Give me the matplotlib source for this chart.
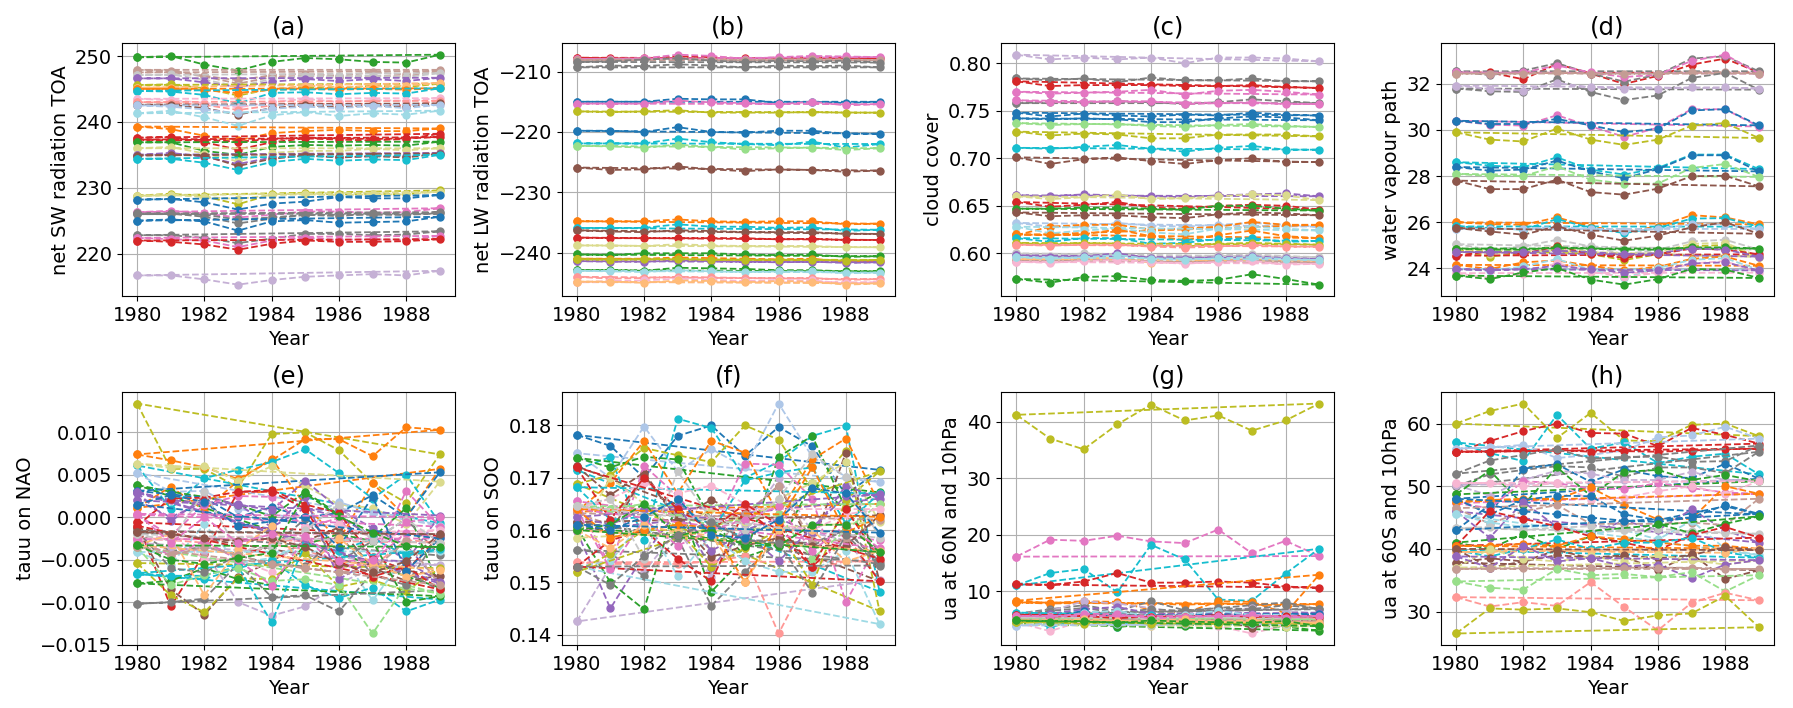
import matplotlib
matplotlib.use('Agg')
import matplotlib.pyplot as plt

years = list(range(1980, 1990))
panel_titles = ['(a)', '(b)', '(c)', '(d)', '(e)', '(f)', '(g)', '(h)']
panel_ylabels = ['net SW radiation TOA', 'net LW radiation TOA', 'cloud cover',
                 'water vapour path', 'tauu on NAO', 'tauu on SOO',
                 'ua at 60N and 10hPa', 'ua at 60S and 10hPa']

# colour of each member, as an index into tab20
sw_colors = [4, 11, 11, 15, 8, 16, 3, 2, 18, 13, 7, 10, 1, 19, 2, 6, 6, 4, 17, 8, 10, 18,
             16, 17, 0, 12, 14, 14, 0, 14, 12, 6, 9]
sw_values = [
    [249.8, 250.0, 248.7, 247.8, 249.1, 249.7, 249.5, 249.1, 249.0, 250.2],
    [247.9, 247.8, 247.0, 246.3, 247.1, 247.3, 247.0, 247.5, 247.2, 247.9],
    [247.5, 247.6, 246.9, 245.8, 246.8, 247.0, 246.8, 247.0, 246.9, 247.7],
    [247.1, 247.2, 246.4, 245.4, 246.5, 247.0, 246.9, 247.0, 246.8, 247.4],
    [246.6, 246.6, 246.0, 245.3, 246.1, 246.5, 246.2, 246.5, 246.2, 246.7],
    [245.6, 245.7, 245.1, 244.0, 245.0, 245.3, 245.1, 245.5, 245.3, 245.8],
    [245.2, 245.2, 244.9, 244.3, 244.9, 245.5, 245.3, 245.4, 245.5, 245.9],
    [245.0, 245.0, 244.8, 244.4, 244.9, 245.0, 244.9, 245.0, 244.9, 245.1],
    [244.7, 244.6, 244.1, 242.8, 244.4, 244.5, 244.2, 244.4, 244.3, 245.1],
    [243.5, 243.3, 242.9, 242.2, 243.0, 243.5, 243.0, 243.3, 243.2, 243.6],
    [243.0, 242.9, 242.6, 241.8, 242.5, 242.9, 242.6, 242.8, 242.5, 243.2],
    [242.6, 242.6, 242.1, 241.1, 242.1, 242.5, 242.3, 242.5, 242.3, 242.8],
    [242.5, 242.3, 241.9, 241.3, 242.0, 242.3, 242.1, 242.4, 242.1, 242.6],
    [241.3, 241.7, 240.7, 239.4, 241.0, 241.5, 240.9, 241.3, 241.1, 241.7],
    [239.3, 238.9, 237.9, 237.2, 238.3, 238.6, 238.8, 238.6, 238.6, 239.0],
    [237.6, 237.7, 236.9, 235.8, 236.9, 237.5, 237.3, 237.2, 237.4, 238.2],
    [237.3, 237.2, 237.3, 237.0, 237.4, 237.6, 237.5, 237.4, 237.5, 237.7],
    [236.9, 236.9, 235.6, 235.0, 236.2, 236.5, 236.4, 236.5, 236.4, 237.0],
    [236.0, 236.2, 235.2, 234.0, 235.3, 235.6, 235.6, 235.9, 235.7, 236.0],
    [235.0, 235.3, 234.7, 233.6, 234.6, 235.0, 234.6, 234.8, 234.8, 235.3],
    [234.9, 235.0, 234.9, 233.3, 234.4, 234.9, 234.6, 234.8, 234.6, 235.2],
    [234.4, 234.4, 233.8, 232.7, 233.9, 234.4, 234.1, 234.3, 234.2, 235.0],
    [228.8, 229.1, 228.7, 227.5, 229.0, 229.2, 229.0, 229.1, 229.0, 229.6],
    [228.8, 228.9, 228.6, 228.3, 228.9, 229.0, 228.9, 229.0, 229.0, 229.4],
    [228.2, 228.3, 227.8, 226.7, 227.6, 227.9, 228.6, 228.4, 228.4, 228.9],
    [226.3, 226.5, 226.1, 225.5, 225.9, 226.4, 226.4, 226.2, 226.3, 226.9],
    [226.1, 226.1, 225.6, 224.6, 225.3, 225.9, 225.7, 226.1, 225.9, 226.3],
    [226.0, 226.0, 225.9, 225.2, 225.5, 225.9, 225.9, 225.9, 225.9, 226.1],
    [225.0, 225.2, 224.9, 223.5, 224.9, 225.1, 224.7, 224.8, 224.9, 225.6],
    [222.8, 222.8, 222.4, 221.6, 222.3, 223.0, 223.0, 222.8, 222.9, 223.4],
    [222.4, 222.2, 222.0, 221.0, 222.0, 222.4, 222.1, 222.2, 222.1, 222.7],
    [222.0, 221.8, 221.4, 220.6, 221.5, 222.0, 221.8, 221.8, 221.9, 222.2],
    [216.7, 216.7, 216.1, 215.3, 216.0, 216.5, 216.7, 216.9, 216.7, 217.4],
]

lw_colors = [6, 12, 11, 14, 14, 0, 12, 16, 0, 18, 5, 10, 2, 18, 10, 6, 17, 4, 2, 8, 16,
             4, 19, 7, 13, 3]
lw_values = [
    [-207.7, -207.8, -207.8, -207.5, -207.6, -207.8, -207.7, -207.8, -207.7, -207.8],
    [-207.9, -207.9, -207.8, -207.2, -207.4, -207.9, -207.6, -207.4, -207.5, -207.6],
    [-208.1, -208.0, -208.0, -207.8, -208.0, -208.1, -208.0, -207.9, -208.0, -208.1],
    [-208.4, -208.3, -208.0, -207.8, -208.2, -208.4, -208.2, -208.3, -208.2, -208.5],
    [-209.3, -209.0, -209.1, -208.8, -209.0, -209.3, -209.0, -209.1, -209.0, -209.3],
    [-215.0, -215.0, -215.0, -214.5, -214.6, -214.6, -215.2, -215.0, -215.2, -215.0],
    [-215.3, -215.3, -215.3, -214.8, -215.1, -215.2, -215.4, -215.0, -215.6, -215.4],
    [-216.6, -216.7, -216.6, -216.4, -216.8, -216.8, -216.8, -216.7, -216.8, -216.8],
    [-219.8, -219.8, -220.0, -219.2, -220.0, -220.1, -219.8, -219.8, -220.3, -220.3],
    [-221.9, -221.9, -221.9, -221.1, -221.7, -222.0, -222.2, -221.6, -222.6, -222.0],
    [-222.3, -222.4, -222.6, -222.1, -222.5, -222.9, -222.7, -222.6, -223.0, -222.7],
    [-225.9, -226.3, -226.2, -225.7, -226.2, -226.5, -226.2, -226.3, -226.6, -226.4],
    [-234.8, -234.8, -234.8, -234.5, -234.8, -234.9, -234.8, -234.8, -235.3, -235.2],
    [-235.9, -235.9, -235.9, -235.3, -235.7, -235.7, -235.9, -235.8, -236.4, -236.2],
    [-236.3, -236.5, -236.6, -236.3, -236.4, -236.6, -236.6, -236.6, -236.9, -236.9],
    [-237.5, -237.6, -237.6, -237.6, -237.6, -237.6, -237.8, -237.7, -237.9, -237.9],
    [-238.8, -238.8, -238.9, -238.6, -238.8, -238.9, -238.9, -238.9, -239.1, -239.1],
    [-240.3, -240.4, -240.1, -240.1, -240.1, -240.3, -240.4, -240.3, -240.7, -240.6],
    [-241.0, -241.0, -241.0, -240.8, -240.9, -241.0, -241.1, -241.0, -241.5, -241.4],
    [-241.4, -241.5, -241.5, -241.3, -241.4, -241.5, -241.6, -241.5, -241.7, -241.6],
    [-241.1, -241.2, -241.1, -241.0, -241.2, -241.2, -241.2, -241.2, -241.3, -241.2],
    [-242.9, -242.9, -243.0, -242.5, -242.6, -242.7, -242.9, -242.9, -243.1, -243.1],
    [-243.0, -243.1, -243.2, -242.9, -243.1, -243.2, -243.1, -243.1, -243.4, -243.3],
    [-244.0, -244.3, -244.2, -244.0, -244.1, -244.2, -244.2, -244.2, -244.5, -244.4],
    [-244.9, -244.7, -244.6, -244.3, -244.5, -244.7, -244.5, -244.6, -245.1, -244.9],
    [-244.8, -244.8, -245.0, -244.6, -244.7, -244.9, -244.7, -244.8, -245.3, -245.1],
]

cloud_colors = [9, 14, 6, 12, 14, 12, 0, 0, 5, 16, 18, 10, 8, 17, 6, 4, 10, 1, 2, 19, 2,
                18, 16, 7, 15, 8, 3, 11, 4, 13, 19]
cloud_values = [
    [0.809, 0.804, 0.806, 0.804, 0.806, 0.800, 0.806, 0.806, 0.805, 0.802],
    [0.784, 0.782, 0.784, 0.780, 0.785, 0.782, 0.782, 0.784, 0.781, 0.781],
    [0.781, 0.776, 0.777, 0.777, 0.777, 0.776, 0.776, 0.777, 0.775, 0.774],
    [0.770, 0.768, 0.769, 0.770, 0.772, 0.767, 0.771, 0.772, 0.770, 0.767],
    [0.758, 0.759, 0.759, 0.760, 0.759, 0.757, 0.759, 0.762, 0.760, 0.758],
    [0.761, 0.759, 0.759, 0.760, 0.760, 0.757, 0.758, 0.759, 0.757, 0.757],
    [0.748, 0.744, 0.747, 0.745, 0.744, 0.746, 0.745, 0.748, 0.746, 0.745],
    [0.742, 0.741, 0.742, 0.741, 0.738, 0.738, 0.742, 0.744, 0.743, 0.740],
    [0.737, 0.735, 0.736, 0.736, 0.734, 0.733, 0.735, 0.736, 0.734, 0.733],
    [0.728, 0.724, 0.726, 0.725, 0.721, 0.721, 0.725, 0.725, 0.725, 0.723],
    [0.711, 0.710, 0.712, 0.714, 0.710, 0.707, 0.711, 0.713, 0.709, 0.709],
    [0.701, 0.694, 0.699, 0.701, 0.697, 0.694, 0.698, 0.700, 0.696, 0.696],
    [0.661, 0.660, 0.662, 0.661, 0.660, 0.659, 0.661, 0.662, 0.663, 0.660],
    [0.660, 0.657, 0.659, 0.662, 0.657, 0.658, 0.660, 0.662, 0.661, 0.656],
    [0.654, 0.649, 0.651, 0.654, 0.648, 0.647, 0.650, 0.651, 0.650, 0.646],
    [0.647, 0.647, 0.648, 0.648, 0.647, 0.646, 0.650, 0.650, 0.647, 0.645],
    [0.643, 0.639, 0.640, 0.640, 0.638, 0.637, 0.641, 0.643, 0.642, 0.640],
    [0.632, 0.628, 0.628, 0.632, 0.629, 0.628, 0.630, 0.632, 0.630, 0.628],
    [0.619, 0.628, 0.630, 0.630, 0.625, 0.626, 0.628, 0.633, 0.630, 0.630],
    [0.628, 0.621, 0.624, 0.626, 0.622, 0.620, 0.626, 0.628, 0.626, 0.624],
    [0.620, 0.619, 0.620, 0.625, 0.618, 0.614, 0.619, 0.624, 0.618, 0.616],
    [0.616, 0.612, 0.616, 0.616, 0.610, 0.611, 0.615, 0.616, 0.612, 0.613],
    [0.611, 0.609, 0.611, 0.610, 0.608, 0.607, 0.610, 0.611, 0.610, 0.609],
    [0.609, 0.608, 0.609, 0.609, 0.607, 0.606, 0.607, 0.609, 0.607, 0.607],
    [0.600, 0.597, 0.600, 0.599, 0.596, 0.595, 0.598, 0.599, 0.597, 0.596],
    [0.598, 0.596, 0.597, 0.600, 0.595, 0.594, 0.596, 0.597, 0.595, 0.594],
    [0.594, 0.593, 0.595, 0.595, 0.590, 0.591, 0.593, 0.594, 0.592, 0.592],
    [0.592, 0.591, 0.593, 0.593, 0.592, 0.590, 0.592, 0.593, 0.591, 0.590],
    [0.573, 0.569, 0.575, 0.576, 0.572, 0.571, 0.572, 0.578, 0.573, 0.567],
    [0.591, 0.590, 0.592, 0.593, 0.591, 0.589, 0.591, 0.592, 0.588, 0.589],
    [0.596, 0.594, 0.596, 0.598, 0.594, 0.593, 0.595, 0.596, 0.594, 0.593],
]

wvp_colors = [6, 14, 12, 11, 14, 9, 12, 0, 16, 18, 0, 5, 10, 2, 18, 1, 10, 15, 16, 17, 6,
              4, 8, 2, 19, 13, 8, 4]
wvp_values = [
    [32.48, 32.50, 32.20, 32.87, 32.45, 32.00, 32.35, 32.84, 33.10, 32.50],
    [32.55, 32.38, 32.58, 32.90, 32.45, 32.10, 32.40, 33.10, 33.20, 32.55],
    [32.50, 32.45, 32.50, 32.80, 32.50, 32.30, 32.40, 33.00, 33.27, 32.45],
    [32.45, 32.45, 32.45, 32.50, 32.45, 32.45, 32.45, 32.50, 32.50, 32.45],
    [31.80, 31.68, 31.65, 32.20, 31.65, 31.30, 31.50, 32.26, 32.48, 31.75],
    [31.93, 31.78, 31.70, 32.04, 31.85, 31.80, 31.80, 31.85, 31.85, 31.80],
    [30.40, 30.23, 30.19, 30.64, 30.16, 29.70, 30.10, 30.90, 30.90, 30.15],
    [30.40, 30.26, 30.26, 30.48, 30.20, 29.90, 30.05, 30.85, 30.90, 30.20],
    [29.90, 29.58, 29.50, 30.06, 29.58, 29.35, 29.58, 30.19, 30.30, 29.65],
    [28.60, 28.45, 28.38, 28.81, 28.28, 28.06, 28.35, 28.93, 28.93, 28.30],
    [28.39, 28.23, 28.28, 28.67, 28.20, 27.90, 28.30, 28.90, 28.90, 28.20],
    [28.09, 28.00, 28.00, 28.42, 27.84, 27.67, 27.67, 28.35, 28.52, 27.96],
    [27.80, 27.43, 27.43, 27.84, 27.30, 27.19, 27.45, 27.99, 28.01, 27.55],
    [25.99, 25.91, 25.88, 26.20, 25.80, 25.60, 25.80, 26.30, 26.20, 25.90],
    [25.81, 25.74, 25.67, 26.13, 25.74, 25.52, 25.74, 26.15, 26.17, 25.80],
    [25.70, 25.70, 25.70, 25.80, 25.70, 25.60, 25.70, 25.90, 25.90, 25.70],
    [25.74, 25.59, 25.45, 25.81, 25.45, 25.19, 25.41, 25.77, 25.99, 25.49],
    [25.04, 24.80, 24.94, 25.23, 24.94, 24.60, 24.80, 25.16, 25.23, 24.80],
    [24.75, 24.50, 24.65, 24.80, 24.60, 24.35, 24.60, 24.95, 25.00, 24.50],
    [24.85, 24.60, 24.75, 24.95, 24.70, 24.50, 24.70, 25.05, 25.10, 24.50],
    [24.54, 24.72, 24.62, 24.94, 24.60, 24.45, 24.60, 24.85, 24.80, 24.60],
    [24.85, 24.80, 24.80, 24.90, 24.85, 24.80, 24.80, 24.90, 24.90, 24.85],
    [24.70, 24.70, 24.70, 24.75, 24.70, 24.60, 24.65, 24.85, 24.80, 24.50],
    [24.14, 23.96, 24.25, 24.33, 24.10, 23.90, 24.05, 24.40, 24.50, 24.10],
    [23.96, 23.88, 24.07, 24.39, 23.93, 23.57, 24.00, 24.36, 24.43, 23.93],
    [23.78, 23.57, 23.75, 24.22, 23.85, 23.60, 23.80, 24.20, 24.30, 23.80],
    [23.95, 23.90, 23.95, 24.10, 23.95, 23.80, 23.90, 24.20, 24.25, 23.90],
    [23.67, 23.52, 23.81, 24.00, 23.50, 23.28, 23.52, 23.96, 23.93, 23.57],
]

nao_colors = [16, 2, 2, 18, 17, 1, 4, 0, 8, 8, 12, 6, 10, 14, 7, 13, 9, 19, 16, 18, 4, 14,
              18, 5, 12, 8, 14, 6, 0, 15, 3, 11, 10, 4, 12]
nao_values = [
    [0.0134, 0.0057, 0.0057, 0.0035, 0.0098, 0.0100, 0.0079, 0.0040, 0.0017, 0.0074],
    [0.0074, 0.0067, 0.0059, 0.0045, 0.0067, 0.0092, 0.0092, 0.0072, 0.0106, 0.0103],
    [0.0011, 0.0036, 0.0008, 0.0043, 0.0069, 0.0014, -0.0027, 0.0040, 0.0000, 0.0057],
    [0.0061, 0.0010, 0.0046, 0.0056, 0.0065, 0.0080, 0.0052, 0.0022, 0.0050, -0.0007],
    [0.0063, 0.0058, 0.0060, 0.0043, 0.0060, 0.0037, 0.0015, 0.0011, -0.0008, 0.0042],
    [0.0052, 0.0030, 0.0031, 0.0010, 0.0003, -0.0001, 0.0018, 0.0005, 0.0001, -0.0010],
    [0.0038, 0.0030, 0.0024, 0.0015, 0.0001, 0.0030, 0.0003, -0.0024, 0.0011, -0.0083],
    [0.0031, 0.0027, 0.0023, 0.0000, 0.0012, 0.0000, 0.0005, 0.0026, 0.0000, 0.0053],
    [0.0029, -0.0005, 0.0024, 0.0015, 0.0008, 0.0043, 0.0010, -0.0013, -0.0033, -0.0078],
    [0.0020, 0.0000, 0.0018, 0.0016, -0.0012, 0.0011, 0.0000, -0.0022, -0.0052, 0.0002],
    [0.0003, -0.0022, 0.0015, 0.0025, 0.0024, -0.0012, -0.0001, -0.0050, 0.0031, -0.0011],
    [-0.0006, -0.0105, -0.0043, 0.0030, 0.0032, 0.0015, 0.0005, -0.0047, -0.0063, -0.0022],
    [-0.0013, -0.0085, -0.0115, -0.0070, -0.0052, -0.0028, -0.0012, -0.0060, -0.0075, -0.0069],
    [-0.0018, -0.0040, -0.0035, -0.0043, -0.0035, -0.0002, -0.0052, -0.0028, -0.0002, -0.0045],
    [-0.0025, -0.0027, -0.0030, -0.0048, -0.0032, -0.0038, -0.0055, -0.0058, -0.0027, -0.0030],
    [-0.0027, -0.0021, -0.0049, -0.0050, -0.0065, -0.0012, -0.0008, -0.0024, -0.0020, -0.0015],
    [-0.0030, -0.0035, -0.0040, -0.0100, -0.0116, -0.0105, -0.0078, -0.0060, -0.0057, -0.0056],
    [-0.0041, -0.0056, -0.0008, -0.0054, -0.0048, -0.0032, -0.0040, -0.0098, -0.0045, -0.0040],
    [-0.0054, -0.0092, -0.0112, -0.0072, -0.0073, -0.0042, -0.0082, -0.0074, -0.0087, -0.0060],
    [-0.0067, -0.0070, -0.0073, -0.0060, -0.0050, -0.0080, -0.0095, -0.0083, -0.0111, -0.0097],
    [-0.0078, -0.0075, -0.0060, -0.0073, -0.0080, -0.0032, -0.0020, -0.0028, -0.0100, -0.0093],
    [-0.0102, -0.0100, -0.0096, -0.0055, -0.0094, -0.0092, -0.0111, -0.0065, -0.0065, -0.0086],
    [-0.0066, -0.0069, -0.0069, -0.0058, -0.0124, -0.0031, -0.0040, -0.0025, -0.0045, -0.0038],
    [-0.0035, -0.0080, -0.0068, -0.0060, -0.0075, -0.0073, -0.0080, -0.0137, -0.0080, -0.0090],
    [-0.0026, -0.0045, -0.0028, -0.0050, -0.0081, -0.0024, -0.0060, -0.0052, -0.0018, -0.0025],
    [0.0030, 0.0020, 0.0017, -0.0010, -0.0013, 0.0024, -0.0073, -0.0050, -0.0052, -0.0076],
    [-0.0016, -0.0060, -0.0065, -0.0045, -0.0055, -0.0058, -0.0020, -0.0068, -0.0080, -0.0020],
    [-0.0010, 0.0022, 0.0023, 0.0030, 0.0030, 0.0010, -0.0052, -0.0070, -0.0058, -0.0085],
    [0.0015, 0.0026, 0.0018, -0.0010, -0.0005, 0.0000, -0.0035, 0.0024, -0.0063, -0.0025],
    [-0.0020, -0.0028, 0.0030, -0.0040, -0.0035, -0.0015, 0.0015, -0.0028, -0.0002, -0.0030],
    [-0.0033, -0.0020, -0.0092, -0.0038, -0.0010, -0.0060, -0.0025, -0.0055, -0.0070, -0.0062],
    [-0.0035, -0.0045, -0.0035, -0.0045, -0.0055, -0.0060, -0.0065, -0.0062, -0.0028, -0.0080],
    [-0.0017, -0.0020, -0.0025, -0.0028, -0.0025, -0.0035, -0.0055, -0.0065, -0.0052, -0.0020],
    [-0.0033, -0.0050, -0.0055, -0.0048, -0.0042, 0.0028, 0.0001, -0.0018, -0.0034, -0.0035],
    [0.0004, -0.0030, 0.0000, -0.0030, -0.0020, -0.0022, -0.0052, -0.0050, -0.0006, 0.0000],
]

soo_colors = [0, 1, 18, 16, 4, 2, 10, 12, 9, 8, 4, 14, 7, 19, 16, 6, 17, 11, 14, 18, 5,
              10, 13, 8, 6, 12, 2, 3, 15, 4, 14, 0]
soo_values = [
    [0.1782, 0.1761, 0.1700, 0.1780, 0.1800, 0.1742, 0.1797, 0.1760, 0.1668, 0.1715],
    [0.1747, 0.1700, 0.1798, 0.1712, 0.1755, 0.1720, 0.1842, 0.1740, 0.1702, 0.1692],
    [0.1715, 0.1740, 0.1580, 0.1813, 0.1795, 0.1700, 0.1730, 0.1780, 0.1799, 0.1482],
    [0.1688, 0.1705, 0.1757, 0.1743, 0.1730, 0.1800, 0.1773, 0.1677, 0.1752, 0.1445],
    [0.1738, 0.1720, 0.1740, 0.1735, 0.1620, 0.1550, 0.1740, 0.1780, 0.1640, 0.1672],
    [0.1635, 0.1690, 0.1770, 0.1670, 0.1771, 0.1748, 0.1630, 0.1735, 0.1775, 0.1650],
    [0.1722, 0.1667, 0.1710, 0.1620, 0.1658, 0.1625, 0.1685, 0.1570, 0.1748, 0.1502],
    [0.1655, 0.1530, 0.1723, 0.1665, 0.1590, 0.1727, 0.1725, 0.1660, 0.1462, 0.1580],
    [0.1425, 0.1530, 0.1520, 0.1600, 0.1510, 0.1610, 0.1700, 0.1595, 0.1580, 0.1505],
    [0.1598, 0.1450, 0.1552, 0.1637, 0.1528, 0.1600, 0.1622, 0.1595, 0.1685, 0.1660],
    [0.1605, 0.1500, 0.1448, 0.1660, 0.1482, 0.1548, 0.1570, 0.1690, 0.1640, 0.1558],
    [0.1562, 0.1555, 0.1512, 0.1585, 0.1455, 0.1520, 0.1578, 0.1575, 0.1600, 0.1540],
    [0.1538, 0.1535, 0.1535, 0.1535, 0.1540, 0.1550, 0.1402, 0.1525, 0.1540, 0.1540],
    [0.1530, 0.1540, 0.1620, 0.1512, 0.1590, 0.1540, 0.1520, 0.1520, 0.1560, 0.1420],
    [0.1520, 0.1555, 0.1600, 0.1600, 0.1530, 0.1565, 0.1600, 0.1495, 0.1658, 0.1712],
    [0.1530, 0.1580, 0.1600, 0.1545, 0.1502, 0.1640, 0.1590, 0.1530, 0.1590, 0.1502],
    [0.1585, 0.1700, 0.1650, 0.1600, 0.1640, 0.1615, 0.1660, 0.1690, 0.1730, 0.1615],
    [0.1632, 0.1610, 0.1700, 0.1625, 0.1560, 0.1630, 0.1685, 0.1580, 0.1580, 0.1620],
    [0.1615, 0.1605, 0.1598, 0.1585, 0.1620, 0.1580, 0.1580, 0.1570, 0.1600, 0.1535],
    [0.1682, 0.1620, 0.1625, 0.1658, 0.1595, 0.1695, 0.1710, 0.1720, 0.1612, 0.1670],
    [0.1645, 0.1640, 0.1650, 0.1625, 0.1610, 0.1620, 0.1630, 0.1545, 0.1600, 0.1650],
    [0.1615, 0.1595, 0.1705, 0.1620, 0.1548, 0.1570, 0.1585, 0.1570, 0.1570, 0.1628],
    [0.1640, 0.1660, 0.1690, 0.1670, 0.1685, 0.1650, 0.1610, 0.1600, 0.1630, 0.1640],
    [0.1625, 0.1610, 0.1640, 0.1645, 0.1560, 0.1595, 0.1540, 0.1605, 0.1665, 0.1668],
    [0.1720, 0.1620, 0.1700, 0.1640, 0.1600, 0.1650, 0.1610, 0.1530, 0.1640, 0.1545],
    [0.1640, 0.1525, 0.1620, 0.1570, 0.1600, 0.1620, 0.1645, 0.1560, 0.1610, 0.1565],
    [0.1640, 0.1585, 0.1600, 0.1610, 0.1605, 0.1500, 0.1615, 0.1720, 0.1595, 0.1625],
    [0.1600, 0.1565, 0.1610, 0.1595, 0.1590, 0.1500, 0.1600, 0.1600, 0.1540, 0.1560],
    [0.1645, 0.1660, 0.1545, 0.1712, 0.1620, 0.1600, 0.1660, 0.1745, 0.1702, 0.1585],
    [0.1600, 0.1610, 0.1650, 0.1590, 0.1600, 0.1570, 0.1570, 0.1610, 0.1610, 0.1558],
    [0.1530, 0.1495, 0.1550, 0.1590, 0.1615, 0.1580, 0.1575, 0.1480, 0.1590, 0.1532],
    [0.1610, 0.1600, 0.1625, 0.1660, 0.1590, 0.1585, 0.1620, 0.1680, 0.1670, 0.1595],
]

ua60n_colors = [16, 12, 18, 6, 2, 2, 14, 9, 14, 8, 0, 18, 19, 13, 4, 17, 10, 1, 16, 5, 7,
                11, 15, 6, 12, 3, 4]
ua60n_values = [
    [41.2, 37.0, 35.1, 39.5, 43.0, 40.2, 41.1, 38.4, 40.2, 43.2],
    [16.1, 19.1, 18.9, 19.8, 18.8, 18.5, 20.9, 16.7, 18.9, 16.2],
    [11.0, 13.2, 13.9, 9.8, 18.2, 15.6, 8.5, 8.3, 13.1, 17.5],
    [11.2, 11.1, 11.7, 13.2, 11.5, 11.5, 11.7, 11.5, 10.8, 10.6],
    [8.3, 7.9, 8.2, 8.1, 6.7, 6.1, 8.2, 8.1, 6.1, 12.9],
    [8.0, 7.8, 7.9, 7.8, 7.8, 7.6, 7.8, 7.6, 7.5, 7.7],
    [6.0, 6.8, 7.5, 6.5, 8.2, 6.6, 7.0, 7.5, 8.0, 6.8],
    [6.0, 6.5, 8.2, 7.8, 7.0, 6.0, 6.5, 7.0, 6.5, 6.0],
    [5.8, 6.5, 7.0, 6.2, 6.8, 6.5, 7.0, 6.8, 7.5, 6.9],
    [5.6, 6.0, 6.8, 7.2, 6.0, 5.8, 6.5, 6.0, 5.7, 6.2],
    [5.6, 5.5, 6.5, 5.5, 5.4, 5.5, 5.8, 5.5, 5.4, 6.0],
    [6.2, 3.5, 5.5, 3.7, 5.7, 5.0, 5.3, 5.5, 5.0, 5.2],
    [5.3, 4.8, 6.2, 6.5, 5.5, 5.8, 6.5, 5.8, 5.8, 5.3],
    [4.5, 2.9, 4.8, 4.5, 3.9, 4.0, 3.8, 2.5, 4.0, 5.0],
    [4.2, 5.0, 4.8, 3.6, 4.5, 3.9, 4.3, 3.8, 3.7, 3.0],
    [4.0, 4.8, 4.7, 5.0, 3.8, 4.3, 4.4, 4.5, 3.7, 3.8],
    [4.8, 5.0, 5.3, 5.5, 5.0, 4.8, 5.0, 3.5, 4.8, 4.9],
    [3.9, 4.3, 4.2, 4.1, 4.0, 4.2, 4.3, 4.2, 4.2, 4.3],
    [4.5, 4.5, 4.2, 4.7, 4.2, 4.3, 4.2, 4.6, 4.3, 4.2],
    [5.2, 5.0, 5.2, 5.0, 5.1, 5.0, 5.2, 5.1, 5.0, 5.0],
    [5.5, 5.4, 5.6, 5.3, 5.5, 5.5, 5.4, 5.3, 5.5, 5.3],
    [5.0, 4.6, 5.0, 4.8, 5.2, 4.6, 4.9, 5.2, 4.8, 4.6],
    [5.3, 5.6, 5.2, 5.4, 5.0, 5.6, 5.4, 5.2, 5.3, 5.4],
    [5.8, 5.5, 5.6, 5.2, 5.5, 5.4, 5.8, 5.4, 5.6, 5.5],
    [5.6, 5.5, 6.0, 5.9, 5.2, 5.4, 5.6, 5.8, 5.3, 5.6],
    [4.9, 4.5, 5.1, 4.7, 4.8, 5.0, 4.6, 4.9, 4.5, 4.4],
    [4.8, 4.6, 4.7, 4.4, 4.8, 4.6, 4.5, 4.4, 4.7, 3.8],
]

ua60s_colors = [16, 6, 18, 1, 6, 14, 14, 0, 9, 4, 12, 13, 2, 0, 8, 11, 19, 15, 0, 4, 6,
                2, 18, 3, 10, 10, 17, 8, 11, 5, 7, 16]
ua60s_values = [
    [60.0, 62.0, 63.2, 57.7, 61.7, 57.3, 57.2, 59.8, 60.0, 58.0],
    [55.5, 57.2, 58.8, 60.0, 58.5, 58.4, 56.4, 59.3, 58.2, 56.8],
    [57.0, 55.3, 54.0, 61.4, 56.0, 57.0, 53.7, 54.7, 55.2, 51.9],
    [56.0, 56.2, 56.6, 54.5, 55.0, 55.7, 57.8, 58.1, 59.5, 57.6],
    [55.5, 55.5, 55.6, 55.8, 55.5, 55.6, 55.5, 55.7, 55.9, 56.0],
    [52.0, 54.1, 55.0, 55.9, 54.4, 54.7, 54.7, 53.9, 54.0, 56.5],
    [50.0, 51.9, 52.6, 53.2, 53.0, 51.5, 53.0, 53.0, 52.1, 55.5],
    [48.0, 45.6, 52.8, 53.5, 50.7, 52.7, 51.6, 51.3, 53.6, 51.2],
    [50.2, 48.5, 51.0, 52.5, 52.0, 51.0, 51.0, 52.3, 51.0, 51.0],
    [48.7, 52.5, 47.0, 53.0, 48.5, 52.3, 52.6, 51.0, 51.8, 50.8],
    [47.3, 46.5, 50.8, 50.5, 49.6, 49.6, 50.5, 49.7, 49.0, 48.8],
    [50.5, 50.5, 50.0, 50.5, 47.8, 48.2, 49.2, 50.0, 48.8, 50.8],
    [47.5, 47.8, 48.0, 48.0, 49.8, 47.0, 44.7, 44.8, 50.0, 48.8],
    [48.0, 45.5, 47.8, 48.5, 48.4, 45.5, 44.6, 45.7, 46.8, 45.5],
    [46.0, 41.8, 47.5, 43.5, 42.5, 44.5, 43.0, 46.3, 43.0, 41.0],
    [46.5, 44.0, 46.0, 47.0, 44.0, 44.0, 44.0, 44.2, 43.8, 48.0],
    [45.5, 44.2, 43.5, 43.7, 42.5, 43.0, 41.5, 44.5, 40.0, 39.0],
    [43.3, 43.5, 43.0, 43.4, 43.6, 43.0, 43.2, 42.8, 42.6, 42.4],
    [43.0, 47.0, 46.0, 45.5, 45.0, 44.5, 44.3, 45.0, 47.0, 45.6],
    [41.0, 40.0, 42.4, 40.0, 42.0, 41.0, 44.0, 42.5, 44.0, 45.2],
    [40.5, 46.0, 44.8, 43.6, 42.0, 41.0, 39.8, 42.2, 43.5, 41.8],
    [40.5, 40.5, 40.8, 40.5, 42.0, 41.5, 41.0, 40.5, 40.5, 40.0],
    [39.8, 38.8, 40.0, 41.5, 40.0, 41.0, 41.0, 41.8, 39.5, 38.6],
    [39.5, 39.5, 40.2, 39.7, 39.6, 39.5, 39.5, 39.4, 39.4, 40.0],
    [37.8, 38.5, 38.0, 39.8, 38.5, 38.8, 36.6, 39.2, 35.2, 36.6],
    [40.0, 37.0, 38.0, 39.0, 38.6, 39.0, 38.5, 39.0, 40.3, 39.8],
    [37.0, 40.0, 38.4, 38.0, 38.8, 38.0, 39.0, 38.2, 37.5, 38.2],
    [38.8, 37.0, 40.5, 38.0, 38.5, 37.2, 37.5, 35.3, 37.5, 38.2],
    [36.8, 36.9, 36.9, 36.9, 36.9, 37.0, 37.0, 37.0, 36.8, 36.8],
    [34.8, 33.8, 33.5, 36.8, 35.8, 36.0, 35.5, 36.3, 33.2, 35.8],
    [32.3, 30.8, 31.5, 30.9, 34.7, 30.7, 27.0, 31.4, 33.0, 31.8],
    [26.5, 30.5, 30.3, 30.5, 29.9, 28.5, 29.4, 29.7, 32.5, 27.5],
]

panel_colors = [sw_colors, lw_colors, cloud_colors, wvp_colors,
                nao_colors, soo_colors, ua60n_colors, ua60s_colors]
panel_values = [sw_values, lw_values, cloud_values, wvp_values,
                nao_values, soo_values, ua60n_values, ua60s_values]

plt.rcParams['font.size'] = 14
tab20 = plt.get_cmap('tab20')

fig, axes = plt.subplots(2, 4, figsize=(17.93, 7.08), dpi=100)
plt.subplots_adjust(left=0.068, right=0.9894, bottom=0.089, top=0.939,
                    wspace=0.32, hspace=0.379)

for ax, title, ylabel, colors, values in zip(axes.flat, panel_titles, panel_ylabels,
                                             panel_colors, panel_values):
    for c, vals in zip(colors, values):
        # each member is drawn as a closed loop, last year joined back to the first
        ax.plot(years + [years[0]], vals + [vals[0]], 'o--',
                color=tab20(c), markersize=5, linewidth=1.3)
    ax.set_title(title, fontsize=17.5)
    ax.set_xlabel('Year')
    ax.set_ylabel(ylabel)
    ax.set_xticks([1980, 1982, 1984, 1986, 1988])
    ax.grid(True)

plt.savefig('out.png')
